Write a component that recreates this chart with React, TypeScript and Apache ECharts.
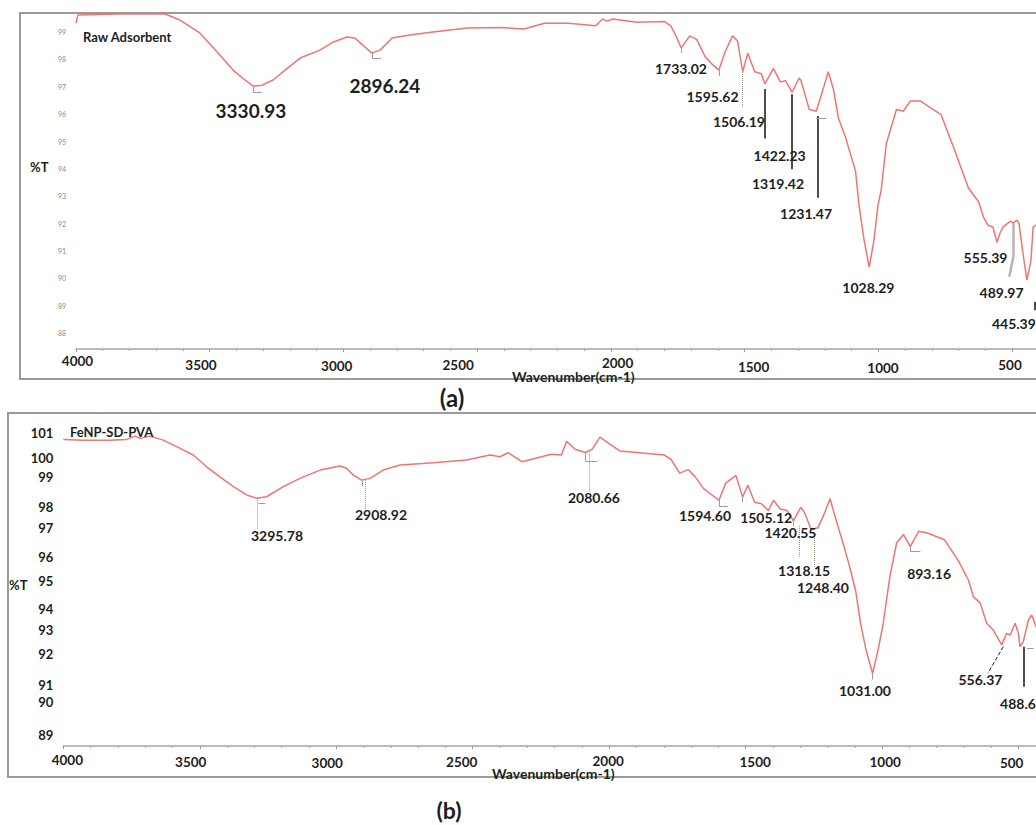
import React, { useEffect, useRef } from 'react';
import * as echarts from 'echarts';

// ---------- data ----------
const wavenumberA = [4000,3993,3835,3667,3611,3536,3462,3413,3368,3338,3304,3263,3218,3162,3088,3039,2987,2957,2919,2893,2863,2818,2751,2665,2538,2415,2325,2248,2159,2057,2031,2014,1993,1903,1801,1776,1756,1737,1705,1679,1648,1622,1596,1573,1545,1526,1507,1488,1462,1437,1424,1392,1366,1347,1322,1296,1289,1258,1232,1206,1187,1168,1149,1123,1085,1072,1053,1034,1016,1001,989,970,932,906,880,842,804,765,714,663,625,607,590,571,556,545,534,515,504,496,481,474,459,444,429,421,410,395];
const transmittanceA = [99.33,99.62,99.66,99.66,99.44,98.96,98.16,97.61,97.25,97.03,97.06,97.25,97.61,98.05,98.34,98.63,98.82,98.78,98.45,98.23,98.34,98.78,98.89,99.00,99.15,99.17,99.11,99.32,99.32,99.23,99.48,99.40,99.48,99.36,99.39,99.23,98.85,98.42,98.86,98.73,98.11,97.83,97.61,98.27,98.86,98.67,97.55,98.23,97.55,97.48,97.11,97.67,97.17,97.23,96.80,97.32,97.23,96.17,96.11,96.92,97.55,96.92,95.86,95.17,93.92,92.67,91.40,90.41,91.40,92.68,93.23,94.92,96.17,96.11,96.48,96.48,96.23,95.98,94.67,93.30,92.80,92.25,91.95,91.87,91.32,91.65,91.87,92.02,92.09,92.02,92.13,92.02,90.92,89.94,90.67,91.87,91.95,91.99];

const wavenumberB = [4000,3927,3829,3768,3737,3719,3682,3634,3572,3524,3475,3426,3377,3328,3291,3255,3194,3133,3059,2986,2962,2937,2907,2876,2828,2766,2644,2522,2437,2400,2370,2319,2262,2212,2175,2156,2125,2087,2062,2034,1999,1961,1899,1799,1774,1742,1711,1686,1655,1598,1573,1536,1511,1492,1467,1442,1417,1398,1373,1348,1325,1298,1285,1260,1235,1210,1191,1166,1147,1122,1097,1078,1059,1035,1015,997,972,947,922,897,866,834,772,722,684,666,641,617,593,562,544,531,513,501,495,483,464,452,436,420];
const transmittanceB = [100.75,100.72,100.72,100.75,100.88,100.79,100.88,100.72,100.39,100.13,99.66,99.26,98.87,98.54,98.41,98.47,98.87,99.20,99.53,99.69,99.60,99.33,99.13,99.20,99.53,99.73,99.82,99.93,100.13,100.06,100.22,99.86,100.02,100.16,100.13,100.67,100.36,100.23,100.36,100.84,100.57,100.29,100.23,100.13,99.96,99.41,99.55,99.28,98.80,98.33,99.01,99.32,98.46,98.93,98.25,98.19,97.92,98.33,97.98,97.92,97.51,98.05,97.85,97.17,97.24,97.85,98.39,97.44,96.76,95.81,94.73,93.37,92.38,91.44,92.38,93.37,95.27,96.63,96.97,96.49,97.10,97.03,96.76,95.95,95.16,94.50,94.25,93.44,93.17,92.58,93.04,92.97,93.44,93.04,92.51,92.71,93.57,93.77,93.30,93.10];

const xTickLabels = [4000, 3500, 3000, 2500, 2000, 1500, 1000, 500];
const yTickLabelsA = [88, 89, 90, 91, 92, 93, 94, 95, 96, 97, 98, 99];
const yTickLabelsB = [89, 90, 91, 92, 93, 94, 95, 96, 97, 98, 99, 100, 101];

const peakLabelsA = ['3330.93','2896.24','1733.02','1595.62','1506.19','1422.23','1319.42','1231.47','1028.29','555.39','489.97','445.39'];
const peakLabelsB = ['3295.78','2908.92','2080.66','1594.60','1505.12','1420.55','1318.15','1248.40','893.16','1031.00','556.37','488.6'];

// ---------- layout / styles ----------
const FONT = 'Lato';
const INK = '#1e1e1e';
const CURVE = '#f07474';
const FRAME = '#9a9a9a';

const yRangeA = [87.42, 99.66];
const yRangeB = [88.56, 101.64];

// label anchor points in data space [wavenumber, %T], size, align
const labelPlaceA = [
  { at: [3346, 96.15], size: 19 }, { at: [2845, 97.06], size: 19 },
  { at: [1738, 97.67] }, { at: [1620, 96.65] }, { at: [1521, 95.73] },
  { at: [1369, 94.48] }, { at: [1375, 93.48] }, { at: [1270, 92.38] },
  { at: [1037, 89.67] }, { at: [599, 90.77] }, { at: [539, 89.47] },
  { at: [575, 88.35], align: 'left' },
];
const labelPlaceB = [
  { at: [3217, 96.91] }, { at: [2836, 97.78] }, { at: [2056, 98.42] },
  { at: [1649, 97.71] }, { at: [1425, 97.65] }, { at: [1336, 97.03] },
  { at: [1286, 95.54] }, { at: [1217, 94.86] }, { at: [828, 95.43] },
  { at: [1063, 90.77] }, { at: [640, 91.19] }, { at: [568, 90.26], align: 'left' },
];

const G = { color: '#9d9d9d', width: 1, type: 'solid' };
const GD = { color: '#a08c80', width: 1, type: 'dotted' };
const BK = { color: '#111', width: 1.5, type: 'solid' };
const leadersA: any[] = [
  [[1507, 97.54], [1507, 96.22], GD],
  [[1424, 96.92], [1424, 95.11], BK],
  [[1322, 96.73], [1322, 93.99], BK],
  [[1226, 95.93], [1226, 92.95], BK],
  [[1233, 95.86], [1194, 95.86], G],
  [[495, 92.01], [495, 90.79], { color: '#b5b5b5', width: 2.5, type: 'solid' }],
  [[495, 90.79], [510, 90.06], { color: '#b5b5b5', width: 2.5, type: 'solid' }],
  [[414, 89.14], [414, 88.84], BK],
  [[3338, 97.03], [3338, 96.80], G], [[3338, 96.80], [3305, 96.80], G],
  [[2893, 98.23], [2893, 98.05], G], [[2893, 98.05], [2860, 98.05], G],
  [[1737, 98.42], [1737, 98.24], G],
  [[1596, 97.61], [1596, 97.40], G],
];
const leadersB: any[] = [
  [[3291, 98.41], [3291, 97.15], GD], [[3285, 98.2], [3260, 98.2], G],
  [[2895, 99.13], [2895, 97.94], GD], [[2905, 99.1], [2905, 98.9], G],
  [[2072, 100.23], [2072, 98.66], GD],
  [[2087, 100.23], [2087, 99.89], G], [[2087, 99.89], [2044, 99.89], G],
  [[1598, 98.33], [1598, 98.10], G], [[1598, 98.10], [1565, 98.10], G],
  [[1511, 98.46], [1511, 98.25], G],
  [[1325, 97.51], [1325, 97.30], G],
  [[1305, 97.31], [1305, 96.08], GD],
  [[1250, 96.91], [1250, 95.68], GD],
  [[897, 96.49], [897, 96.29], G], [[897, 96.29], [860, 96.29], G],
  [[556, 92.51], [613, 91.45], { color: '#222', width: 1, type: 'dashed' }],
  [[483, 92.51], [483, 90.92], BK], [[470, 92.45], [445, 92.45], G],
  [[1035, 91.44], [1035, 91.2], G],
];

// x tick label offsets [dx, padTop]
const xShiftA: Record<number, number[]> = { 4000: [1.5, 2.7], 3500: [-8.7, 10], 3000: [-6.7, 12.7], 2500: [-19, 9], 2000: [6.7, 5.4], 1500: [9, 13.6], 1000: [4.7, 15.6], 500: [-2, 10.5] };
const xShiftB: Record<number, number[]> = { 4000: [4, 6.3], 3500: [-9, 9.7], 3000: [-9, 11.3], 2500: [-11, 9], 2000: [-1, 7.1], 1500: [9.5, 10.5], 1000: [3, 9.5], 500: [-7, 12.2] };
// y tick label upward shift for panel b
const yShiftB: Record<number, number> = { 101: 0, 100: 0, 99: 6.3, 98: 1.5, 97: 5.7, 96: 1.9, 95: 3, 94: 0, 93: 4.4, 92: 5.6, 91: 0, 90: 7.9, 89: 0 };

function zip(a: number[], b: number[]) {
  return a.map((v, i) => [v, b[i]]);
}

function xAxis(gridIndex: number, shift: Record<number, number[]>) {
  const rich: any = {};
  xTickLabels.forEach((v) => {
    const [dx, pt] = shift[v];
    rich['t' + v] = {
      fontFamily: FONT, fontWeight: 'bold', fontSize: 13.5, color: INK, lineHeight: 14,
      padding: [pt, dx < 0 ? -2 * dx : 0, 0, dx > 0 ? 2 * dx : 0],
    };
  });
  return {
    type: 'value', gridIndex, min: 0, max: 4000, interval: 500, inverse: true,
    axisLine: { show: true, lineStyle: { color: '#a5a5a5', width: 1.5 } },
    axisTick: { show: true, length: 3, lineStyle: { color: '#999' } },
    minorTick: { show: true, splitNumber: 5, length: 2, lineStyle: { color: '#aaa' } },
    splitLine: { show: false },
    axisLabel: {
      margin: 4,
      formatter: (v: number) => (xTickLabels.includes(v) ? `{t${v}|${v}}` : ''),
      rich,
    },
  };
}

function markPoints(labels: string[], place: any[]) {
  return {
    symbol: 'circle', symbolSize: 0, silent: true,
    data: labels.map((t, i) => ({
      name: t, coord: place[i].at,
      label: {
        show: true, position: 'inside', formatter: t, color: INK,
        fontFamily: FONT, fontWeight: 'bold', fontSize: place[i].size || 14,
        align: place[i].align || 'center',
      },
    })),
  };
}

function markLines(leaders: any[]) {
  return {
    silent: true, symbol: ['none', 'none'], label: { show: false },
    data: leaders.map(([a, b, st]) => [{ coord: a, lineStyle: st }, { coord: b }]),
  };
}

function text(t: string, x: number, y: number, size: number, align = 'left') {
  return {
    type: 'text', x, y, z: 10,
    style: {
      text: t, fill: INK, font: `bold ${size}px ${FONT}`,
      align, verticalAlign: 'middle', textAlign: align, textVerticalAlign: 'middle',
    },
  };
}

function buildOption() {
  const yRichB: any = {};
  yTickLabelsB.forEach((v) => {
    yRichB['y' + v] = {
      fontFamily: FONT, fontWeight: 'bold', fontSize: 13, color: INK, lineHeight: 14,
      padding: [0, 0, 2 * yShiftB[v], 0],
    };
  });
  return {
    animation: false,
    backgroundColor: '#ffffff',
    grid: [
      { left: 76, top: 14, width: 1069.7, height: 335, outerBoundsMode: 'none', containLabel: false },
      { left: 63.3, top: 417, width: 1091.8, height: 329, outerBoundsMode: 'none', containLabel: false },
    ],
    xAxis: [xAxis(0, xShiftA), xAxis(1, xShiftB)],
    yAxis: [
      {
        type: 'value', gridIndex: 0, min: yRangeA[0], max: yRangeA[1],
        axisLine: { show: true, lineStyle: { color: '#8a8a8a', width: 1.5, type: [1, 2] } },
        axisTick: { show: true, length: 3, customValues: yTickLabelsA, lineStyle: { color: '#999' } },
        splitLine: { show: false },
        axisLabel: { customValues: yTickLabelsA, margin: 10, fontSize: 7, color: '#8a8a8a', fontFamily: FONT },
      },
      {
        type: 'value', gridIndex: 1, min: yRangeB[0], max: yRangeB[1],
        axisLine: { show: true, lineStyle: { color: '#8a8a8a', width: 1.5, type: [1, 2] } },
        axisTick: { show: false, customValues: yTickLabelsB },
        splitLine: { show: false },
        axisLabel: {
          customValues: yTickLabelsB, margin: 10,
          formatter: (v: number) => `{y${v}|${v}}`, rich: yRichB,
        },
      },
    ],
    series: [
      {
        type: 'line', xAxisIndex: 0, yAxisIndex: 0, data: zip(wavenumberA, transmittanceA),
        showSymbol: false, lineStyle: { color: CURVE, width: 1.5 }, z: 3,
        markPoint: markPoints(peakLabelsA, labelPlaceA),
        markLine: markLines(leadersA),
      },
      {
        type: 'line', xAxisIndex: 1, yAxisIndex: 1, data: zip(wavenumberB, transmittanceB),
        showSymbol: false, lineStyle: { color: CURVE, width: 1.5 }, z: 3,
        markPoint: markPoints(peakLabelsB, labelPlaceB),
        markLine: markLines(leadersB),
      },
    ],
    graphic: [
      { type: 'rect', shape: { x: 20, y: 13, width: 1100, height: 366 }, style: { fill: 'none', stroke: FRAME, lineWidth: 2 }, z: 0 },
      { type: 'rect', shape: { x: 8, y: 413, width: 1110, height: 364 }, style: { fill: 'none', stroke: FRAME, lineWidth: 2 }, z: 0 },
      text('Raw Adsorbent', 83, 37, 13),
      text('%T', 30, 167, 13),
      text('Wavenumber(cm-1)', 512, 376, 14),
      text('(a)', 452, 397, 24, 'center'),
      text('FeNP-SD-PVA', 70, 432, 13),
      text('%T', 9, 585, 13),
      text('Wavenumber(cm-1)', 492, 773, 14),
      text('(b)', 449, 810, 23, 'center'),
    ],
  };
}

export default function App() {
  const ref = useRef<HTMLDivElement>(null);
  useEffect(() => {
    if (!ref.current) return;
    const chart = echarts.init(ref.current, undefined, { renderer: 'svg' });
    chart.setOption(buildOption() as any);
    return () => chart.dispose();
  }, []);
  return (
    <div
      ref={ref}
      style={{ position: 'fixed', left: 0, top: 0, width: 1036, height: 825, background: '#fff' }}
    />
  );
}
